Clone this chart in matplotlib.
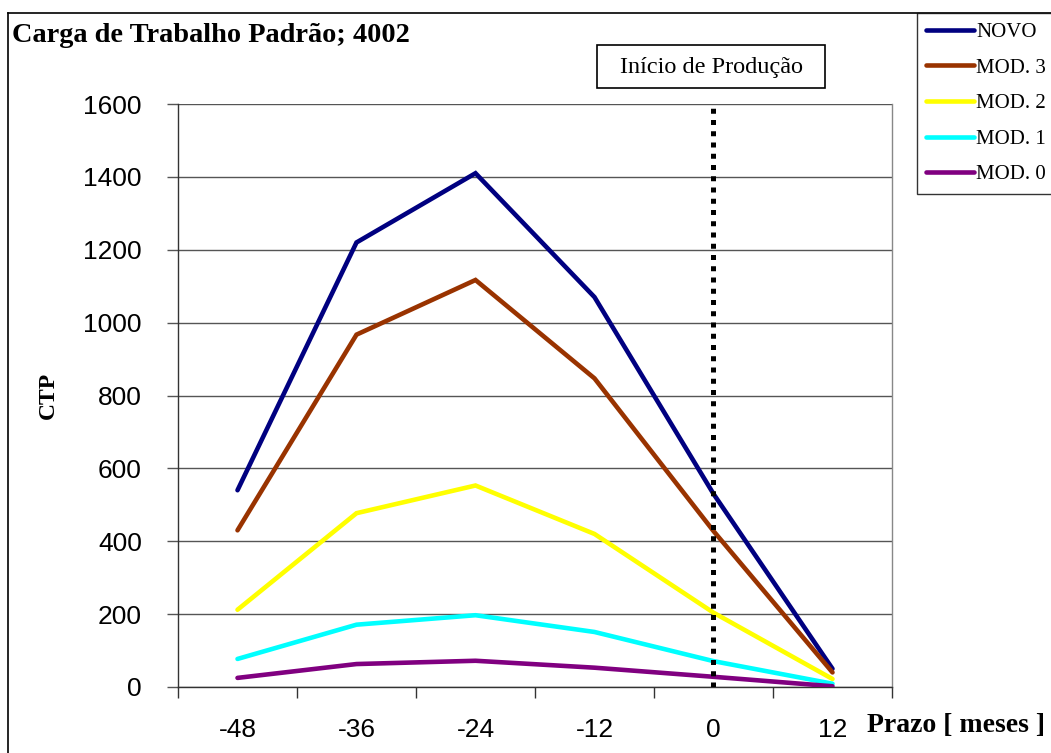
import matplotlib
matplotlib.use("Agg")
import matplotlib.pyplot as plt
from matplotlib.lines import Line2D
from matplotlib.patches import Rectangle

categories = ["-48", "-36", "-24", "-12", "0", "12"]
series_names = ["NOVO", "MOD. 3", "MOD. 2", "MOD. 1", "MOD. 0"]
novo = [540, 1220, 1410, 1070, 530, 50]
mod3 = [430, 967, 1117, 847, 428, 40]
mod2 = [212, 477, 553, 420, 204, 22]
mod1 = [77, 171, 197, 151, 71, 9]
mod0 = [25, 63, 72, 53, 28, 2]
colors = ["#000080", "#993300", "#FFFF00", "#00FFFF", "#800080"]
yticks = [0, 200, 400, 600, 800, 1000, 1200, 1400, 1600]
start_category = "0"

W, H = 1051, 753
fig = plt.figure(figsize=(W / 100, H / 100), dpi=100)
ax = fig.add_axes([178 / W, 1 - 687 / H, (892 - 178) / W, (687 - 104) / H])

x = list(range(len(categories)))
for vals, name, c in zip([novo, mod3, mod2, mod1, mod0], series_names, colors):
    ax.plot(x, vals, color=c, lw=3.3, solid_capstyle="round",
            solid_joinstyle="miter", label=name, zorder=3)

xi = categories.index(start_category)
ax.plot([xi, xi], [0, 1600], color="black", lw=3.6,
        linestyle=(0, (1.0, 1.25)), dash_capstyle="butt", zorder=4)

ax.set_xlim(-0.5, len(categories) - 0.5)
ax.set_ylim(0, 1600)
ax.set_yticks(yticks)
ax.set_xticks(x)
ax.set_xticklabels(categories)
ax.set_xticks([i - 0.5 for i in range(len(categories) + 1)], minor=True)
ax.tick_params(axis="x", which="major", length=0, pad=22,
               labelsize=19, labelfontfamily="Liberation Sans")
ax.tick_params(axis="x", which="minor", length=8, width=1, direction="out",
               color="#333333")
ax.tick_params(axis="y", length=8, width=1, direction="out", pad=18,
               labelsize=19, labelfontfamily="Liberation Sans", color="#555555")
ax.grid(axis="y", color="#555555", lw=1.0)
ax.set_axisbelow(True)
ax.spines["top"].set_visible(False)
ax.spines["right"].set_color("#888888")
ax.spines["left"].set_color("#333333")
ax.spines["bottom"].set_color("#333333")
for s in ax.spines.values():
    s.set_linewidth(1.0)

fig.text(48 / W, 1 - 395 / H, "CTP", rotation=90, ha="center", va="center",
         family="Liberation Serif", fontweight="bold", fontsize=17)
fig.text(867 / W, 1 - 725 / H, "Prazo [ meses ]", ha="left", va="center",
         family="Liberation Serif", fontweight="bold", fontsize=20)
fig.text(12 / W, 1 - 36 / H, "Carga de Trabalho Padrão; 4002", ha="left",
         va="center", family="Liberation Serif", fontweight="bold", fontsize=20.4)

# "Início de Produção" box
fig.add_artist(Rectangle((597 / W, 1 - 88 / H), (825 - 597) / W, (88 - 45) / H,
                         transform=fig.transFigure, fc="white", ec="black", lw=1.2))
fig.text(711 / W, 1 - 67 / H, "Início de Produção", ha="center", va="center",
         family="Liberation Serif", fontsize=17.5)

# outer frame
fig.add_artist(Line2D([8 / W, 8 / W], [0, 1 - 13 / H], color="black", lw=1.2))
fig.add_artist(Line2D([8 / W, 1], [1 - 13 / H, 1 - 13 / H], color="black", lw=1.2))

handles, labels = ax.get_legend_handles_labels()
leg = fig.legend(handles, labels, loc="upper left",
                 bbox_to_anchor=(917 / W, 1 - 13 / H), borderaxespad=0,
                 prop={"family": "Liberation Serif", "size": 15},
                 frameon=True, fancybox=False, edgecolor="black",
                 handlelength=2.3, handletextpad=0.1, labelspacing=0.77,
                 borderpad=0.45)
leg.get_frame().set_linewidth(1.0)

fig.savefig("out.png", dpi=100, facecolor="white")
